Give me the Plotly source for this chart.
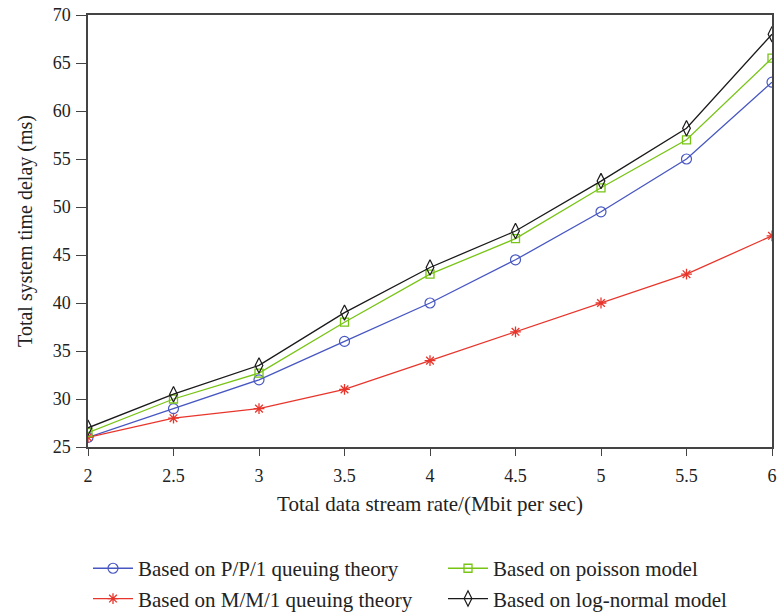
import plotly.graph_objects as go

x_vals = [2, 2.5, 3, 3.5, 4, 4.5, 5, 5.5, 6]
ppl_vals = [26, 29, 32, 36, 40, 44.5, 49.5, 55, 63]
mm1_vals = [26, 28, 29, 31, 34, 37, 40, 43, 47]
poisson_vals = [26.5, 30, 32.7, 38, 43, 46.7, 52, 57, 65.5]
lognormal_vals = [27, 30.5, 33.5, 39, 43.7, 47.5, 52.7, 58.2, 68]

names = [
    "Based on P/P/1 queuing theory",
    "Based on M/M/1 queuing theory",
    "Based on poisson model",
    "Based on log-normal model",
]

FONT = "Liberation Serif"

fig = go.Figure()
fig.add_trace(go.Scatter(x=x_vals, y=ppl_vals, name=names[0], mode="lines+markers",
                         line=dict(color="#4757c2", width=1.3),
                         marker=dict(symbol="circle-open", size=10, color="#4757c2", line=dict(width=1.2)),
                         legend="legend"))
fig.add_trace(go.Scatter(x=x_vals, y=mm1_vals, name=names[1], mode="lines+markers",
                         line=dict(color="#e8352b", width=1.3),
                         marker=dict(symbol="asterisk-open", size=9, color="#e8352b", line=dict(width=1.3, color="#e8352b")),
                         legend="legend"))
fig.add_trace(go.Scatter(x=x_vals, y=poisson_vals, name=names[2], mode="lines+markers",
                         line=dict(color="#78c414", width=1.3),
                         marker=dict(symbol="square-open", size=8, color="#78c414", line=dict(width=1.3)),
                         legend="legend2"))
fig.add_trace(go.Scatter(x=x_vals, y=lognormal_vals, name=names[3], mode="lines+markers",
                         line=dict(color="#1a1a1a", width=1.3),
                         marker=dict(symbol="diamond-tall-open", size=11, color="#1a1a1a", line=dict(width=1.2)),
                         legend="legend2"))

axis_common = dict(showline=True, linecolor="#444", linewidth=1.5, mirror=True,
                   ticks="outside", tickwidth=1.3, tickcolor="#444",
                   showgrid=False, zeroline=False,
                   tickfont=dict(family=FONT, size=18, color="#222"))

fig.update_layout(
    width=777, height=612,
    margin=dict(l=88, r=5, t=15, b=165, autoexpand=False),
    paper_bgcolor="white", plot_bgcolor="white",
    font=dict(family=FONT, size=18, color="#222"),
    xaxis=dict(range=[2, 6], dtick=0.5, tick0=2, ticklen=7, ticklabelstandoff=5,
               title=dict(text="Total data stream rate/(Mbit per sec)", font=dict(family=FONT, size=21), standoff=11),
               **axis_common),
    yaxis=dict(range=[25, 70], dtick=5, tick0=25, ticklen=10, ticklabelstandoff=2,
               title=dict(text="Total system time delay (ms)", font=dict(family=FONT, size=20)),
               **axis_common),
    legend=dict(x=0.0, y=-0.234, xanchor="left", yanchor="top", orientation="v",
                itemwidth=40,
                font=dict(family=FONT, size=21, color="#222"), bgcolor="rgba(0,0,0,0)",
                tracegroupgap=0),
    legend2=dict(x=0.519, y=-0.234, xanchor="left", yanchor="top", orientation="v",
                 itemwidth=40,
                 font=dict(family=FONT, size=21, color="#222"), bgcolor="rgba(0,0,0,0)",
                 tracegroupgap=0),
)

fig.write_html("out.html")
